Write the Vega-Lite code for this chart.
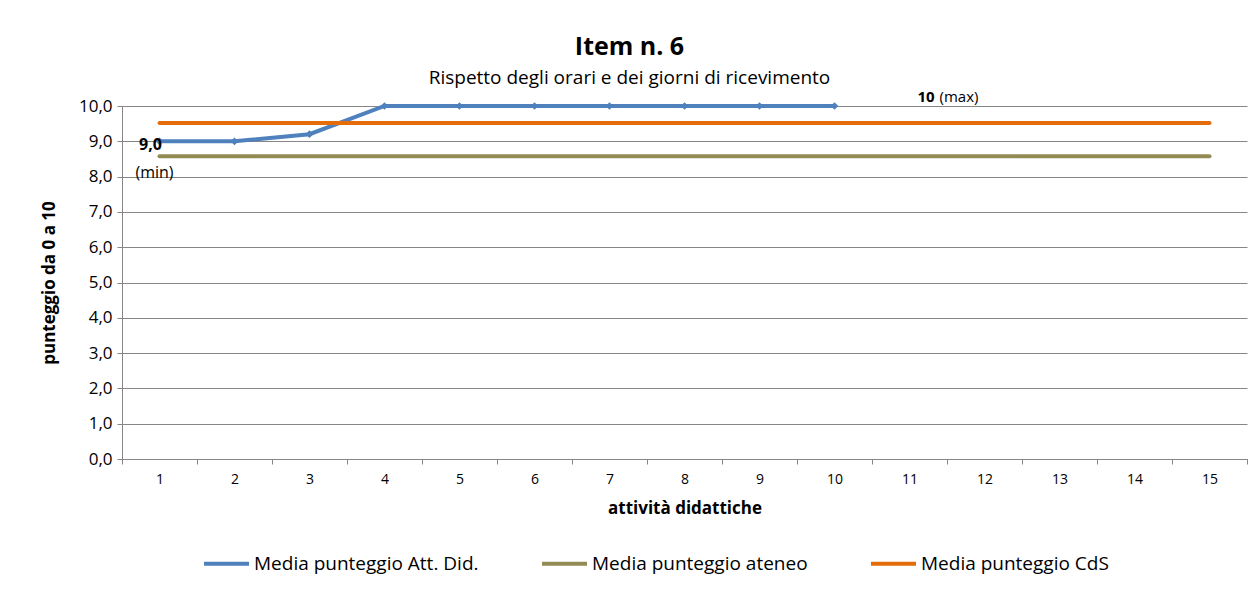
{
  "$schema": "https://vega.github.io/schema/vega-lite/v6.json",
  "width": 1125,
  "height": 353,
  "autosize": {"type": "none"},
  "padding": {"left": 122, "top": 106, "right": 7, "bottom": 130},
  "background": "white",
  "config": {
    "font": "Open Sans",
    "view": {"stroke": null},
    "axis": {
      "labelColor": "black",
      "titleColor": "black",
      "domainColor": "#868686",
      "tickColor": "#868686",
      "gridColor": "#868686",
      "gridWidth": 1,
      "labelOverlap": false
    }
  },
  "title": {
    "text": "Item n. 6",
    "subtitle": "Rispetto degli orari e dei giorni di ricevimento",
    "fontSize": 25,
    "fontWeight": "bold",
    "color": "black",
    "subtitleFontSize": 19,
    "subtitleColor": "black",
    "subtitlePadding": 9,
    "anchor": "middle",
    "dx": -55,
    "offset": 2
  },
  "datasets": {
    "series": [
      {"x": 1, "value": 9.0, "series": "Media punteggio Att. Did."},
      {"x": 2, "value": 9.0, "series": "Media punteggio Att. Did."},
      {"x": 3, "value": 9.2, "series": "Media punteggio Att. Did."},
      {"x": 4, "value": 10, "series": "Media punteggio Att. Did."},
      {"x": 5, "value": 10, "series": "Media punteggio Att. Did."},
      {"x": 6, "value": 10, "series": "Media punteggio Att. Did."},
      {"x": 7, "value": 10, "series": "Media punteggio Att. Did."},
      {"x": 8, "value": 10, "series": "Media punteggio Att. Did."},
      {"x": 9, "value": 10, "series": "Media punteggio Att. Did."},
      {"x": 10, "value": 10, "series": "Media punteggio Att. Did."},
      {"x": 1, "value": 8.58, "series": "Media punteggio ateneo"},
      {"x": 2, "value": 8.58, "series": "Media punteggio ateneo"},
      {"x": 3, "value": 8.58, "series": "Media punteggio ateneo"},
      {"x": 4, "value": 8.58, "series": "Media punteggio ateneo"},
      {"x": 5, "value": 8.58, "series": "Media punteggio ateneo"},
      {"x": 6, "value": 8.58, "series": "Media punteggio ateneo"},
      {"x": 7, "value": 8.58, "series": "Media punteggio ateneo"},
      {"x": 8, "value": 8.58, "series": "Media punteggio ateneo"},
      {"x": 9, "value": 8.58, "series": "Media punteggio ateneo"},
      {"x": 10, "value": 8.58, "series": "Media punteggio ateneo"},
      {"x": 11, "value": 8.58, "series": "Media punteggio ateneo"},
      {"x": 12, "value": 8.58, "series": "Media punteggio ateneo"},
      {"x": 13, "value": 8.58, "series": "Media punteggio ateneo"},
      {"x": 14, "value": 8.58, "series": "Media punteggio ateneo"},
      {"x": 15, "value": 8.58, "series": "Media punteggio ateneo"},
      {"x": 1, "value": 9.52, "series": "Media punteggio CdS"},
      {"x": 2, "value": 9.52, "series": "Media punteggio CdS"},
      {"x": 3, "value": 9.52, "series": "Media punteggio CdS"},
      {"x": 4, "value": 9.52, "series": "Media punteggio CdS"},
      {"x": 5, "value": 9.52, "series": "Media punteggio CdS"},
      {"x": 6, "value": 9.52, "series": "Media punteggio CdS"},
      {"x": 7, "value": 9.52, "series": "Media punteggio CdS"},
      {"x": 8, "value": 9.52, "series": "Media punteggio CdS"},
      {"x": 9, "value": 9.52, "series": "Media punteggio CdS"},
      {"x": 10, "value": 9.52, "series": "Media punteggio CdS"},
      {"x": 11, "value": 9.52, "series": "Media punteggio CdS"},
      {"x": 12, "value": 9.52, "series": "Media punteggio CdS"},
      {"x": 13, "value": 9.52, "series": "Media punteggio CdS"},
      {"x": 14, "value": 9.52, "series": "Media punteggio CdS"},
      {"x": 15, "value": 9.52, "series": "Media punteggio CdS"}
    ],
    "notes": [
      {"x": 1, "value": 9.0, "bold": "9,0", "plain": "(min)"},
      {"x": 11, "value": 10, "bold": "10", "plain": "(max)"}
    ]
  },
  "layer": [
    {
      "data": {"name": "series"},
      "mark": {"type": "line", "strokeWidth": 4, "strokeCap": "round"},
      "encoding": {
        "x": {
          "field": "x",
          "type": "ordinal",
          "scale": {"domain": [1,2,3,4,5,6,7,8,9,10,11,12,13,14,15], "paddingInner": 0, "paddingOuter": 0},
          "axis": {
            "title": "attività didattiche",
            "titleFontSize": 17,
            "titleFontWeight": "bold",
            "titlePadding": 14,
            "labelAngle": 0,
            "labelFontSize": 14,
            "labelPadding": 8,
            "tickBand": "extent",
            "tickSize": 5,
            "grid": false
          }
        },
        "y": {
          "field": "value",
          "type": "quantitative",
          "scale": {"domain": [0, 10], "nice": false},
          "axis": {
            "title": "punteggio da 0 a 10",
            "titleFontSize": 17,
            "titleFontWeight": "bold",
            "titlePadding": 20,
            "labelFontSize": 17,
            "labelPadding": 5,
            "values": [0,1,2,3,4,5,6,7,8,9,10],
            "tickCount": 11,
            "labelExpr": "replace(format(datum.value, '.1f'), '.', ',')",
            "tickSize": 5,
            "grid": true
          }
        },
        "color": {
          "field": "series",
          "type": "nominal",
          "scale": {
            "domain": ["Media punteggio Att. Did.", "Media punteggio ateneo", "Media punteggio CdS"],
            "range": ["#4F81BD", "#948A54", "#E46C0A"]
          },
          "legend": {
            "title": null,
            "orient": "none",
            "legendX": 80,
            "legendY": 433,
            "direction": "horizontal",
            "symbolType": "stroke",
            "symbolSize": 2025,
            "symbolStrokeWidth": 4,
            "labelFontSize": 19,
            "labelLimit": 0,
            "labelColor": "black",
            "labelOffset": 3,
            "columnPadding": 55
          }
        }
      }
    },
    {
      "data": {"name": "series"},
      "transform": [{"filter": "datum.series === 'Media punteggio Att. Did.'"}],
      "mark": {"type": "point", "shape": "diamond", "filled": true, "size": 60, "color": "#4F81BD", "opacity": 1},
      "encoding": {
        "x": {"field": "x", "type": "ordinal"},
        "y": {"field": "value", "type": "quantitative"}
      }
    },
    {
      "data": {"name": "notes"},
      "mark": {"type": "text", "fontWeight": "bold", "fontSize": 16, "align": "center", "baseline": "middle", "dx": -9, "dy": 4, "color": "black"},
      "transform": [{"filter": "datum.x === 1"}],
      "encoding": {
        "x": {"field": "x", "type": "ordinal"},
        "y": {"field": "value", "type": "quantitative"},
        "text": {"field": "bold"}
      }
    },
    {
      "data": {"name": "notes"},
      "mark": {"type": "text", "fontSize": 16, "align": "center", "baseline": "middle", "dx": -5, "dy": 32, "color": "black"},
      "transform": [{"filter": "datum.x === 1"}],
      "encoding": {
        "x": {"field": "x", "type": "ordinal"},
        "y": {"field": "value", "type": "quantitative"},
        "text": {"field": "plain"}
      }
    },
    {
      "data": {"name": "notes"},
      "mark": {"type": "text", "fontWeight": "bold", "fontSize": 15, "align": "left", "baseline": "middle", "dx": 8, "dy": -9, "color": "black"},
      "transform": [{"filter": "datum.x === 11"}],
      "encoding": {
        "x": {"field": "x", "type": "ordinal"},
        "y": {"field": "value", "type": "quantitative"},
        "text": {"field": "bold"}
      }
    },
    {
      "data": {"name": "notes"},
      "mark": {"type": "text", "fontSize": 15, "align": "left", "baseline": "middle", "dx": 30, "dy": -9, "color": "black"},
      "transform": [{"filter": "datum.x === 11"}],
      "encoding": {
        "x": {"field": "x", "type": "ordinal"},
        "y": {"field": "value", "type": "quantitative"},
        "text": {"field": "plain"}
      }
    }
  ]
}
